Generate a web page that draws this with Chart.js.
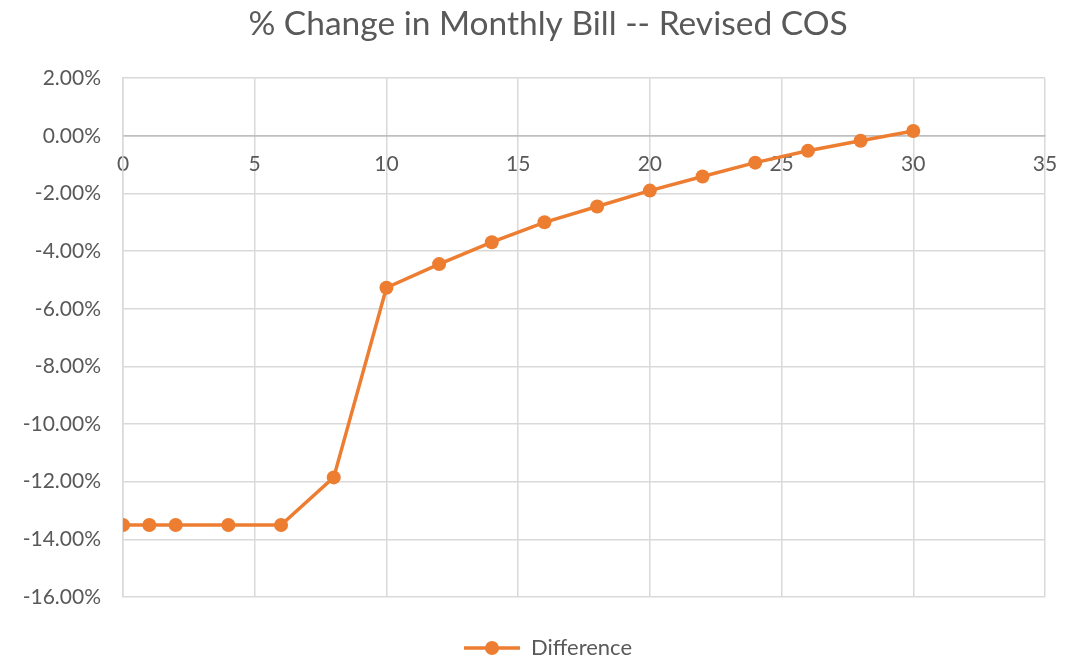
<!DOCTYPE html>
<html>
<head>
<meta charset="utf-8">
<script src="https://cdn.jsdelivr.net/npm/chart.js@4"></script>
<style>
  html, body { margin: 0; padding: 0; background: #fff; }
  #wrap { width: 1076px; height: 663px; }
</style>
</head>
<body>
<div id="wrap"><canvas id="chart"></canvas></div>
<script>
// === Data ===
const usage = [0, 1, 2, 4, 6, 8, 10, 12, 14, 16, 18, 20, 22, 24, 26, 28, 30];
const difference = [-13.5, -13.5, -13.5, -13.5, -13.5, -11.85, -5.27, -4.45, -3.69, -3.0, -2.45, -1.9, -1.41, -0.93, -0.52, -0.17, 0.17];
const xTicks = [0, 5, 10, 15, 20, 25, 30, 35];
const yTicks = [2, 0, -2, -4, -6, -8, -10, -12, -14, -16];

const ORANGE = "#ED7D31";
const TEXT = "#595959";
const GRID = "#d9d9d9";
const FONT = "Lato, 'Open Sans', sans-serif";

// legend symbol: line with a dot in the middle
function legendSymbol() {
  const c = document.createElement("canvas");
  c.width = 56;
  c.height = 16;
  const g = c.getContext("2d");
  g.strokeStyle = ORANGE;
  g.lineWidth = 3.5;
  g.beginPath();
  g.moveTo(0, 8);
  g.lineTo(56, 8);
  g.stroke();
  g.fillStyle = ORANGE;
  g.beginPath();
  g.arc(28, 8, 7, 0, Math.PI * 2);
  g.fill();
  return c;
}

// keep the legend short so the plot area ends where the original does
const legendHeight = {
  id: "legendHeight",
  afterInit(chart) {
    const lg = chart.legend;
    const fit = lg.fit;
    lg.fit = function () {
      fit.call(this);
      this.height = 66;
    };
  },
};

const points = usage.map((x, i) => ({ x, y: difference[i] }));

new Chart(document.getElementById("chart"), {
  type: "line",
  data: {
    datasets: [{
      label: "Difference",
      data: points,
      borderColor: ORANGE,
      backgroundColor: ORANGE,
      borderWidth: 3.5,
      pointRadius: 7,
      pointHoverRadius: 7,
      pointBorderWidth: 0,
      tension: 0,
    }],
  },
  plugins: [legendHeight],
  options: {
    responsive: true,
    maintainAspectRatio: false,
    animation: false,
    layout: { padding: { left: 20, right: 0, top: 0, bottom: 0 } },
    plugins: {
      title: {
        display: true,
        text: "% Change in Monthly Bill -- Revised COS",
        color: TEXT,
        font: { family: FONT, size: 33.5, weight: "normal" },
        padding: { top: 4, bottom: 34 },
      },
      legend: {
        position: "bottom",
        labels: {
          usePointStyle: true,
          pointStyle: legendSymbol(),
          pointStyleWidth: 56,
          color: TEXT,
          font: { family: FONT, size: 22 },
          padding: 40,
        },
      },
      tooltip: { enabled: false },
    },
    scales: {
      x: {
        type: "linear",
        position: { y: 0 },
        min: 0,
        max: 35,
        afterBuildTicks(axis) { axis.ticks = xTicks.map(v => ({ value: v })); },
        ticks: { color: TEXT, font: { family: FONT, size: 21 }, padding: 16 },
        grid: { color: GRID, lineWidth: 1.5, drawTicks: false },
        border: { display: true, color: "#bfbfbf", width: 1.5 },
      },
      y: {
        type: "linear",
        min: -16,
        max: 2,
        afterBuildTicks(axis) { axis.ticks = yTicks.map(v => ({ value: v })); },
        afterFit(axis) { axis.width = 103; },
        ticks: {
          color: TEXT,
          font: { family: FONT, size: 21 },
          padding: 22,
          callback: v => v.toFixed(2) + "%",
        },
        grid: {
          color: ctx => (ctx.tick && ctx.tick.value === 0 ? "#bfbfbf" : GRID),
          lineWidth: 1.5,
          drawTicks: false,
        },
        border: { display: true, color: GRID, width: 1.5 },
      },
      // empty right margin, reserves the space right of the plot
      yRight: {
        type: "linear",
        position: "right",
        min: -16,
        max: 2,
        afterFit(axis) { axis.width = 31; },
        ticks: { display: false },
        grid: { display: false, drawTicks: false },
        border: { display: false },
      },
    },
  },
});
</script>
</body>
</html>
